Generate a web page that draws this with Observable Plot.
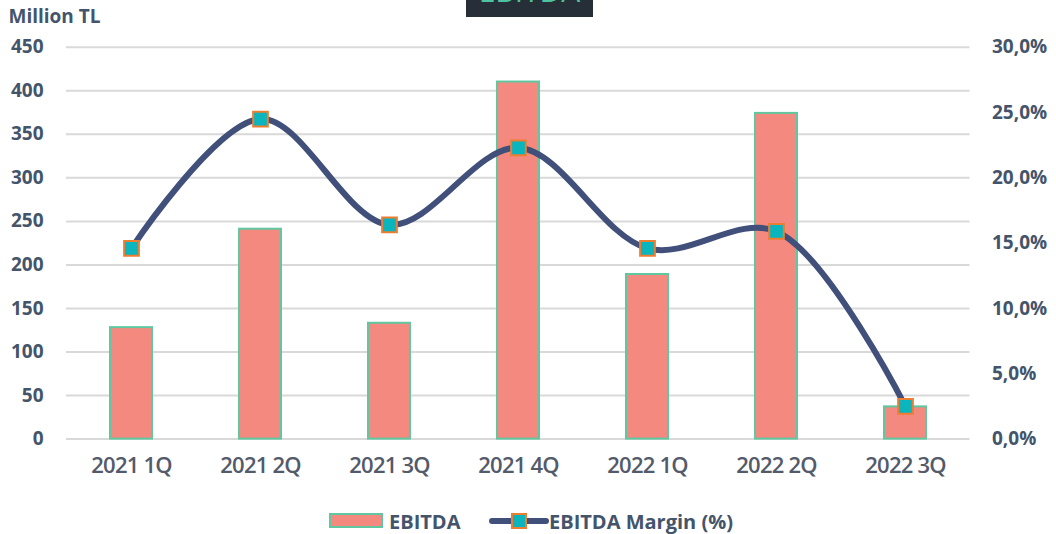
<!DOCTYPE html>
<html>
<head>
<meta charset="utf-8">
<script src="https://cdn.jsdelivr.net/npm/d3@7"></script>
<script src="https://cdn.jsdelivr.net/npm/@observablehq/plot@0.6"></script>
<style>
  html, body { margin: 0; padding: 0; background: #fff; }
  body { width: 1056px; height: 534px; position: relative; overflow: hidden; font-family: "Open Sans", sans-serif; }
  #title { position: absolute; left: 466px; top: 0; width: 127px; height: 17px; background: #262f38; overflow: hidden; z-index: 2; }
  #title span { position: absolute; left: 0; right: 0; top: -24px; text-align: center; font-size: 30px; line-height: 30px; color: #4ec3a0; font-weight: 400; }
  #chart svg { display: block; }
  #chart g[aria-label="x-axis tick label"] text { letter-spacing: -0.8px; }
  #legend { position: absolute; left: 0; top: 500px; width: 1056px; height: 34px; }
  #legend .item { position: absolute; top: 8px; display: flex; align-items: center; font-size: 20px; font-weight: 700; color: #44546a; height: 26px; }
</style>
</head>
<body>
<div id="title"><span>EBITDA</span></div>
<div id="chart"></div>
<div id="legend">
  <div class="item" style="left:329px">
    <svg width="56" height="18" style="margin-right:4px"><rect x="1" y="2" width="52" height="13" fill="#f4897f" stroke="#5fc8a0" stroke-width="2"/></svg>
    <span>EBITDA</span>
  </div>
  <div class="item" style="left:489px">
    <svg width="60" height="20"><line x1="3" y1="10" x2="57" y2="10" stroke="#41507a" stroke-width="6" stroke-linecap="round"/><rect x="23" y="3" width="14" height="14" fill="#0ab5bd" stroke="#ed7d31" stroke-width="2"/></svg>
    <span>EBITDA Margin (%)</span>
  </div>
</div>
<script>
const quarters = ["2021 1Q", "2021 2Q", "2021 3Q", "2021 4Q", "2022 1Q", "2022 2Q", "2022 3Q"];
const ebitda = [128, 241, 133, 410, 189, 374, 37];
const marginPct = [14.6, 24.5, 16.4, 22.3, 14.6, 15.9, 2.5];
const leftTicks = [0, 50, 100, 150, 200, 250, 300, 350, 400, 450];
const rightTicks = [0, 5, 10, 15, 20, 25, 30];

const ratio = 450 / 30; // right axis 0–30% shares the left 0–450 range
const rows = quarters.map((q, i) => ({q, ebitda: ebitda[i], margin: marginPct[i]}));
const textColor = "#44546a";

const chart = Plot.plot({
  width: 1056,
  height: 500,
  marginTop: 46.7,
  marginBottom: 61.4,
  marginLeft: 66,
  marginRight: 86.5,
  style: {fontFamily: "'Open Sans', sans-serif", background: "transparent"},
  x: {domain: quarters, paddingInner: 0.677, paddingOuter: 0.339, label: null},
  y: {domain: [0, 450], label: null},
  marks: [
    Plot.gridY(leftTicks, {stroke: "#d9d9d9", strokeWidth: 2, strokeOpacity: 1}),
    Plot.barY(rows, {x: "q", y: "ebitda", fill: "#f4897f", stroke: "#5fc8a0", strokeWidth: 2}),
    Plot.line(rows, {x: "q", y: d => d.margin * ratio, curve: "catmull-rom", stroke: "#41507a", strokeWidth: 6}),
    Plot.dot(rows, {x: "q", y: d => d.margin * ratio, symbol: "square", r: 8.3, fill: "#0ab5bd", stroke: "#ed7d31", strokeWidth: 2}),
    Plot.axisY(leftTicks, {anchor: "left", tickSize: 0, tickPadding: 23, fontSize: 19, fontWeight: "bold", fill: textColor, label: null}),
    Plot.axisY(rightTicks.map(t => t * ratio), {anchor: "right", tickSize: 0, tickPadding: 22, fontSize: 19, fontWeight: "bold", fill: textColor, label: null,
      tickFormat: d => (d / ratio).toFixed(1).replace(".", ",") + "%"}),
    Plot.axisX({tickSize: 0, tickPadding: 18, fontSize: 22, fontWeight: 600, fill: "#535a6a", label: null}),
    Plot.text(["Million TL"], {frameAnchor: "top-left", dx: -58, dy: -38, textAnchor: "start", fontSize: 19, fontWeight: "bold", fill: textColor})
  ]
});
document.getElementById("chart").append(chart);
</script>
</body>
</html>
